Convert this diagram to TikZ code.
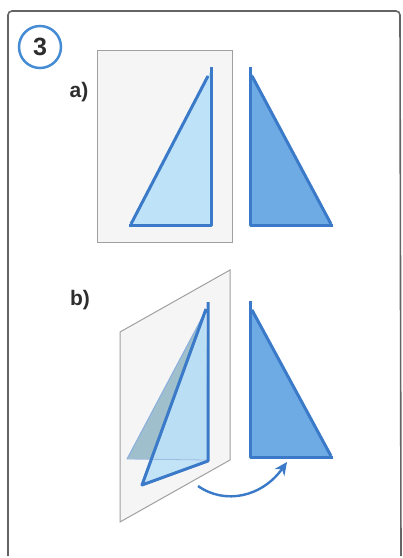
\documentclass[tikz,border=0pt]{standalone}
\usepackage{fontspec}
\setmainfont{Liberation Sans}
\usetikzlibrary{arrows.meta}
\definecolor{frameC}{RGB}{100,100,100}
\definecolor{sheetF}{RGB}{245,245,245}
\definecolor{sheetD}{RGB}{160,160,160}
\definecolor{lightT}{RGB}{190,226,248}
\definecolor{darkT}{RGB}{110,170,228}
\definecolor{edgeT}{RGB}{58,122,200}
\definecolor{greyT}{RGB}{150,186,200}
\definecolor{circC}{RGB}{70,140,212}
\definecolor{txtC}{RGB}{45,45,45}
\tikzset{
  sheet/.style={fill=sheetF, draw=sheetD, line width=1pt},
  edge/.style={draw=edgeT, line width=3pt, line cap=butt, line join=round},
  lbl/.style={text=txtC, font=\bfseries\fontsize{21}{21}\selectfont, inner sep=0pt},
}
\begin{document}
\begin{tikzpicture}[x=1pt,y=-1pt]
\useasboundingbox (0,0) rectangle (403,558);
\fill[white] (0,0) rectangle (403,558);
% frame
\draw[frameC, line width=1.6pt, rounded corners=4pt] (8,556) -- (8,11) -- (400,11) -- (401,556);
% number
\node[circle, draw=circC, line width=2.5pt, fill=white, minimum size=42pt, inner sep=0pt,
      text=txtC, font=\bfseries\fontsize{25}{25}\selectfont] (num) at (40,47) {3};
% labels
\node[lbl] (la) at (79,92) {a)};
\node[lbl] (lb) at (80,300) {b)};

% ---- panel a
\draw[sheet] (97,50) rectangle (232,242);
\fill[lightT] (130,225) -- (210,72) -- (210,225) -- cycle;
\draw[edge] (129,225) -- (211,225) -- (211,67);
\draw[edge] (131,224) -- (208,76);
\fill[darkT] (250,70) -- (250,225) -- (332,225) -- cycle;
\draw[edge] (250,67) -- (250,225) -- (333,225);
\draw[edge] (331,224) -- (252,76);

% ---- panel b
\draw[sheet] (120,332) -- (230,270) -- (230,460) -- (120,522) -- cycle;
\fill[greyT, fill opacity=0.9] (127,459) -- (205,312) -- (208,460) -- cycle;
\draw[edgeT!60, line width=1pt] (127,459) -- (205,312);
\fill[lightT, fill opacity=0.9] (142,485) -- (206,308) -- (208,460) -- cycle;
\draw[edgeT!50, line width=0.8pt] (127,459) -- (208,460);
\draw[edge] (208,302) -- (208,461) -- (142,485) -- (206,309);
\fill[darkT] (250,305) -- (250,457) -- (332,457) -- cycle;
\draw[edge] (250,301) -- (250,457) -- (333,457);
\draw[edge] (331,456) -- (252,310);

% arrow
\coordinate (as) at (198,486);
\coordinate (ae) at (287,462);
\draw[edgeT, line width=2.4pt, -{Stealth[length=13pt,width=12pt]}] (as) .. controls (225,505) and (262,497) .. (ae);
\end{tikzpicture}
\end{document}
